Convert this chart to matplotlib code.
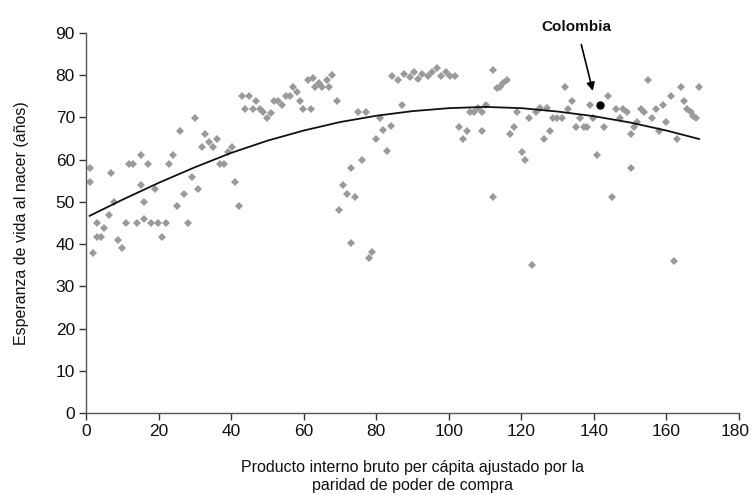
import matplotlib
matplotlib.use("Agg")
import matplotlib.pyplot as plt
from matplotlib.transforms import ScaledTranslation

plt.rcParams['font.family'] = ['Liberation Sans', 'DejaVu Sans']

# PIB per capita (PPA) vs esperanza de vida
pib = [1.1, 1.1, 2.0, 2.9, 2.9, 4.0, 5.0, 6.2, 6.9, 7.8, 8.9, 9.9, 11.0, 11.9, 13.0,
       14.1, 15.1, 15.1, 16.1, 16.1, 17.2, 17.9, 19.0, 19.9, 20.9, 22.0, 22.9, 24.1,
       25.1, 25.9, 27.1, 28.0, 29.1, 30.1, 30.8, 31.9, 32.9, 33.9, 34.9, 36.0, 36.9,
       38.0, 39.0, 40.2, 41.1, 42.3, 42.9, 43.8, 44.9, 45.9, 46.9, 48.0, 48.9, 50.0,
       51.0, 51.9, 53.0, 54.1, 55.1, 56.2, 57.0, 58.1, 59.0, 59.9, 61.1, 62.0, 62.6,
       63.1, 64.2, 65.1, 66.3, 67.1, 67.8, 69.1, 69.8, 70.9, 72.0, 73.0, 73.0, 74.1,
       75.1, 76.1, 77.2, 78.1, 78.8, 79.9, 81.0, 82.0, 82.9, 84.1, 84.3, 86.1, 87.2,
       87.7, 89.3, 90.4, 91.5, 92.6, 94.3, 95.4, 96.7, 97.9, 99.2, 100.3, 101.7,
       102.9, 103.8, 104.9, 105.8, 106.9, 108.0, 109.1, 109.1, 110.2, 112.1, 112.2,
       113.2, 114.1, 115.0, 116.0, 116.9, 118.0, 118.9, 120.1, 121.0, 122.0, 123.0,
       124.0, 125.1, 126.2, 127.0, 127.9, 128.8, 129.9, 131.1, 132.0, 132.9, 134.0,
       135.1, 136.2, 137.3, 138.2, 138.9, 139.8, 140.9, 142.9, 144.0, 144.9, 146.1,
       147.2, 148.1, 149.0, 150.1, 150.1, 151.0, 152.0, 152.9, 153.9, 155.0, 156.1,
       157.0, 157.9, 159.1, 160.0, 161.2, 162.1, 162.8, 163.9, 164.9, 165.8, 166.8,
       167.4, 168.1, 169.1]
vida = [58.0, 54.8, 38.0, 44.9, 41.8, 41.8, 43.9, 46.9, 56.9, 49.9, 41.0, 39.0, 45.0,
        59.0, 59.0, 45.0, 61.1, 54.0, 49.9, 46.0, 59.0, 45.0, 53.1, 45.0, 41.8, 45.0,
        59.0, 61.1, 49.0, 66.9, 51.9, 45.0, 56.0, 69.8, 53.1, 62.9, 66.1, 64.1, 62.9,
        64.9, 59.0, 59.0, 61.9, 62.9, 54.8, 49.0, 75.0, 72.0, 75.0, 72.0, 74.0, 72.0,
        71.2, 69.8, 71.0, 74.0, 74.0, 73.0, 75.0, 75.0, 77.2, 76.1, 74.0, 72.0, 78.9,
        72.0, 79.4, 77.2, 78.1, 77.2, 78.9, 77.2, 80.1, 74.0, 48.1, 54.0, 51.9, 58.1,
        40.2, 51.1, 71.2, 60.0, 71.2, 36.8, 38.2, 64.9, 69.8, 67.1, 62.1, 68.0, 79.9,
        78.9, 73.0, 80.3, 79.6, 80.8, 79.1, 80.3, 79.9, 80.8, 81.8, 79.9, 80.8, 79.9,
        79.9, 67.8, 64.9, 66.9, 71.2, 71.2, 72.2, 71.2, 66.9, 73.0, 51.1, 81.3, 76.9,
        77.3, 78.1, 78.9, 66.1, 67.8, 71.2, 61.9, 60.0, 69.8, 35.1, 71.2, 72.2, 64.9,
        72.2, 66.9, 69.8, 69.8, 69.8, 77.2, 72.0, 74.0, 67.8, 69.8, 67.8, 67.8, 73.0,
        69.8, 61.1, 67.8, 75.0, 51.1, 72.0, 69.8, 72.0, 71.2, 66.1, 58.0, 67.8, 69.0,
        72.0, 71.2, 78.9, 69.8, 72.0, 66.9, 73.0, 69.0, 75.0, 36.0, 64.9, 77.2, 74.0,
        72.0, 71.2, 70.4, 69.8, 77.2]

# tendencia
tend_x = [1, 10, 20, 30, 40, 50, 60, 70, 80, 90, 100, 110, 120, 130, 140, 150, 160, 169]
tend_y = [46.7, 50.5, 54.5, 58.2, 61.6, 64.5, 66.9, 68.9, 70.4, 71.5, 72.2, 72.5,
          72.2, 71.4, 70.3, 68.8, 66.9, 64.9]

col_x, col_y = 141.7, 73.0

fig = plt.figure(figsize=(7.52, 4.95), dpi=100)
ax = fig.add_axes([0.1144, 0.1657, 0.8683, 0.7676])

ax.plot(pib, vida, linestyle='none', marker='D', markersize=4.4,
        color='#9a9a9a', markeredgewidth=0)
ax.plot(tend_x, tend_y, color='#111111', linewidth=1.3)
ax.plot([col_x], [col_y], 'o', color='black', markersize=5)

ax.annotate('Colombia', xy=(139.7, 76.3), xytext=(135.3, 91.5),
            ha='center', va='center', fontsize=11, fontweight='bold',
            color='#111111', annotation_clip=False,
            arrowprops=dict(arrowstyle='-|>', color='black', lw=1.2,
                            mutation_scale=12, shrinkA=6, shrinkB=0))

ax.set_xlim(0, 180)
ax.set_ylim(0, 90)
ax.set_xticks(range(0, 181, 20))
ax.set_yticks(range(0, 91, 10))
for s in ['top', 'right']:
    ax.spines[s].set_visible(False)
for s in ['left', 'bottom']:
    ax.spines[s].set_color('#555555')
    ax.spines[s].set_linewidth(1.0)
ax.tick_params(direction='out', length=5, width=1, color='#333333',
               labelsize=12.5, pad=3, labelcolor='#111111')

# last x label sits right at the figure edge, nudge it in a bit
last = ax.get_xticklabels()[-1]
last.set_transform(last.get_transform() + ScaledTranslation(-3 / 72, 0, fig.dpi_scale_trans))

ax.set_xlabel('Producto interno bruto per cápita ajustado por la\nparidad de poder de compra',
              fontsize=11.5, labelpad=15, linespacing=1.25, color='#111111')
ax.set_ylabel('Esperanza de vida al nacer (años)', fontsize=11.5, labelpad=19,
              color='#111111')

fig.savefig('out.png', dpi=100)
